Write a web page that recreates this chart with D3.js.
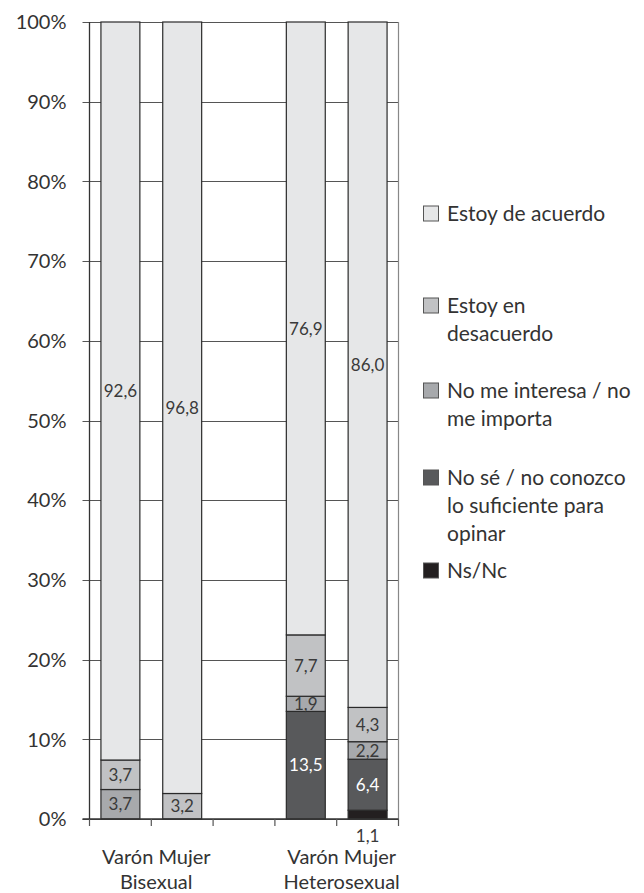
<!DOCTYPE html>
<html>
<head>
<meta charset="utf-8">
<script src="https://cdn.jsdelivr.net/npm/d3@7"></script>
<style>
  body { margin: 0; background: #fff; }
  svg { font-family: Lato, "DejaVu Sans", sans-serif; }
</style>
</head>
<body>
<div id="chart"></div>
<script>
// categories (bottom to top in the stack)
const seriesNames = ["Ns/Nc", "No sé / no conozco lo suficiente para opinar", "No me interesa / no me importa", "Estoy en desacuerdo", "Estoy de acuerdo"];
const sexes = ["Varón", "Mujer", "Varón", "Mujer"];
const groups = ["Bisexual", "Bisexual", "Heterosexual", "Heterosexual"];

// values per bar
const acuerdo    = [92.6, 96.8, 76.9, 86.0];
const desacuerdo = [3.7, 3.2, 7.7, 4.3];
const noInteresa = [3.7, 0, 1.9, 2.2];
const noSe       = [0, 0, 13.5, 6.4];
const nsnc       = [0, 0, 0, 1.1];

const yTicks = [0, 10, 20, 30, 40, 50, 60, 70, 80, 90, 100];

// legend, top to bottom, split in lines like the original
const legendItems = [
  {name: "Estoy de acuerdo", lines: ["Estoy de acuerdo"]},
  {name: "Estoy en desacuerdo", lines: ["Estoy en", "desacuerdo"]},
  {name: "No me interesa / no me importa", lines: ["No me interesa / no", "me importa"]},
  {name: "No sé / no conozco lo suficiente para opinar", lines: ["No sé / no conozco", "lo suficiente para", "opinar"]},
  {name: "Ns/Nc", lines: ["Ns/Nc"]}
];

let colors = d3.scaleOrdinal()
  .domain(seriesNames)
  .range(["#231f20", "#58595b", "#a7a9ac", "#c1c2c4", "#e6e7e8"]);

// one slot per bar plus an empty slot between the groups
let slots = ["Varón|Bisexual", "Mujer|Bisexual", "gap", "Varón|Heterosexual", "Mujer|Heterosexual"];
let rows = sexes.map((s, i) => ({
  key: s + "|" + groups[i],
  "Ns/Nc": nsnc[i],
  "No sé / no conozco lo suficiente para opinar": noSe[i],
  "No me interesa / no me importa": noInteresa[i],
  "Estoy en desacuerdo": desacuerdo[i],
  "Estoy de acuerdo": acuerdo[i]
}));

let margin = {top: 22, left: 89.5},
    width = 309,
    height = 797;

let svg = d3.select("#chart")
  .append("svg")
    .attr("width", 644)
    .attr("height", 893);

let g = svg.append("g")
  .attr("transform", "translate(" + margin.left + "," + margin.top + ")");

let x = d3.scaleBand()
  .domain(slots)
  .range([0, width])
  .paddingInner(0.37)
  .paddingOuter(0.185);

let y = d3.scaleLinear()
  .domain([0, 100])
  .range([height, 0]);

// gridlines
g.append("g")
  .selectAll("line")
  .data(yTicks)
  .join("line")
    .attr("x1", -7)
    .attr("x2", width)
    .attr("y1", d => Math.round(y(d)) + 0.5)
    .attr("y2", d => Math.round(y(d)) + 0.5)
    .style("stroke", "#555")
    .style("stroke-width", 1);

// right border
g.append("line")
  .attr("x1", width).attr("x2", width)
  .attr("y1", 0).attr("y2", height)
  .style("stroke", "#888")
  .style("stroke-width", 1.2);

// y tick labels
g.append("g")
  .selectAll("text")
  .data(yTicks)
  .join("text")
    .attr("x", -23)
    .attr("y", d => y(d))
    .attr("dy", "0.36em")
    .attr("text-anchor", "end")
    .style("font-size", "20px")
    .style("fill", "#333")
    .text(d => d + "%");

// stacked bars
let stack = d3.stack().keys(seriesNames)(rows);

let layers = g.append("g")
  .selectAll("g")
  .data(stack)
  .join("g")
    .attr("fill", d => colors(d.key));

layers.selectAll("rect")
  .data(d => d.filter(s => s[1] - s[0] > 0))
  .join("rect")
    .attr("x", d => x(d.data.key))
    .attr("y", d => y(d[1]))
    .attr("width", x.bandwidth())
    .attr("height", d => y(d[0]) - y(d[1]))
    .style("stroke", "#2a2a2a")
    .style("stroke-width", 1.2);

// value labels
layers.each(function(layer) {
  let dark = layer.key === "No sé / no conozco lo suficiente para opinar";
  d3.select(this).selectAll("text")
    .data(layer.filter(s => s[1] - s[0] > 0))
    .join("text")
      .attr("x", d => x(d.data.key) + x.bandwidth() / 2)
      .attr("y", d => (d[1] - d[0]) < 1.5 ? y(0) + 17 : y((d[0] + d[1]) / 2))
      .attr("dy", "0.36em")
      .attr("text-anchor", "middle")
      .style("font-size", "17px")
      .style("fill", dark ? "#fff" : "#3a3a3a")
      .text(d => (d[1] - d[0]).toFixed(1).replace(".", ","));
});

// axes lines
g.append("line")
  .attr("x1", 0).attr("x2", 0)
  .attr("y1", 0).attr("y2", height)
  .style("stroke", "#333")
  .style("stroke-width", 1.3);

g.append("line")
  .attr("x1", -7).attr("x2", width)
  .attr("y1", height).attr("y2", height)
  .style("stroke", "#333")
  .style("stroke-width", 1.3);

// x ticks at slot boundaries
g.append("g")
  .selectAll("line")
  .data(d3.range(slots.length + 1))
  .join("line")
    .attr("x1", i => i * x.step())
    .attr("x2", i => i * x.step())
    .attr("y1", height)
    .attr("y2", height + 7)
    .style("stroke", "#555")
    .style("stroke-width", 1.2);

// category labels, two levels
let groupNames = Array.from(new Set(groups));
groupNames.forEach(gr => {
  let keys = rows.filter(r => r.key.endsWith("|" + gr)).map(r => r.key);
  let cx = (x(keys[0]) + x(keys[keys.length - 1]) + x.bandwidth()) / 2 + 5;
  g.append("text")
    .attr("x", cx)
    .attr("y", height + 38)
    .attr("dy", "0.36em")
    .attr("text-anchor", "middle")
    .style("font-size", "20px")
    .style("fill", "#333")
    .text(keys.map(k => k.split("|")[0]).join(" "));
  g.append("text")
    .attr("x", cx)
    .attr("y", height + 63)
    .attr("dy", "0.36em")
    .attr("text-anchor", "middle")
    .style("font-size", "20px")
    .style("fill", "#333")
    .text(gr);
});

// legend
let legendY = [213, 305, 390, 477, 570];
let legend = svg.append("g")
  .selectAll("g")
  .data(legendItems)
  .join("g")
    .attr("transform", (d, i) => "translate(423," + legendY[i] + ")");

legend.append("rect")
  .attr("x", 0.5)
  .attr("y", -7)
  .attr("width", 15)
  .attr("height", 15)
  .attr("fill", d => colors(d.name))
  .style("stroke", "#555")
  .style("stroke-width", 1);

legend.each(function(d) {
  d3.select(this).selectAll("text")
    .data(d.lines)
    .join("text")
      .attr("x", 24)
      .attr("y", (l, i) => i * 28)
      .attr("dy", "0.36em")
      .style("font-size", "21px")
      .style("fill", "#333")
      .text(l => l);
});
</script>
</body>
</html>
